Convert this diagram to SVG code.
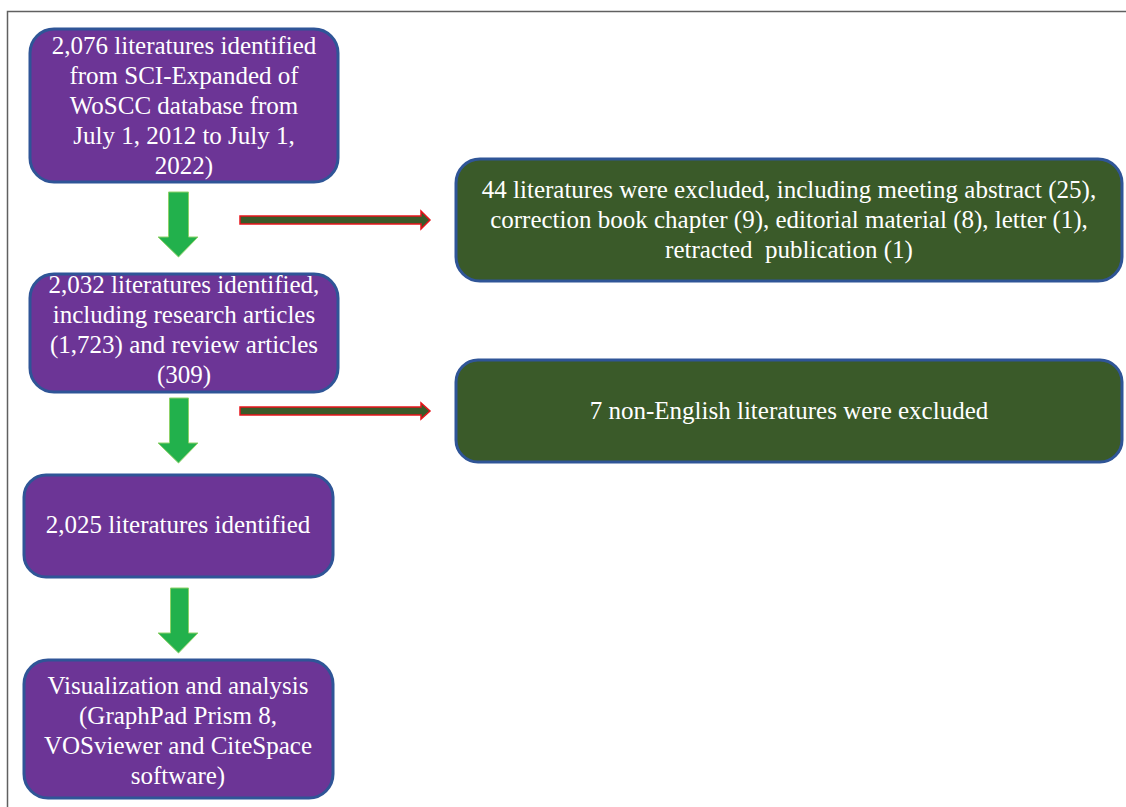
<svg xmlns="http://www.w3.org/2000/svg" width="1126" height="807" viewBox="0 0 1126 807">
<style>
.purple{fill:#6c3596;stroke:#2f5597;stroke-width:3}
.dgreen{fill:#3a5a29;stroke:#2f5597;stroke-width:3}
.t{font-family:"Liberation Serif","Times New Roman",serif;font-size:25px;fill:#ffffff;text-anchor:middle}
.garrow{fill:#22b14c;stroke:#8fd26a;stroke-width:1}
.rarrow{fill:#3a5a29;stroke:#e8141b;stroke-width:1.5}
</style>
<rect width="1126" height="807" fill="#ffffff"/>
<g id="frame">
<path d="M1126,11.5 H7.5 V807" fill="none" stroke="#606060" stroke-width="1.5"/>
</g>
<g id="node1">
<rect class="purple" x="30" y="29" width="308" height="153" rx="24"/>
<text class="t" x="184" y="54">2,076 literatures identified</text>
<text class="t" x="184" y="84">from SCI-Expanded of</text>
<text class="t" x="184" y="114">WoSCC database from</text>
<text class="t" x="184" y="144">July 1, 2012 to July 1,</text>
<text class="t" x="184" y="174">2022)</text>
</g>
<g id="node2">
<rect class="purple" x="30" y="274" width="308" height="118" rx="24"/>
<text class="t" x="184" y="293">2,032 literatures identified,</text>
<text class="t" x="184" y="323">including research articles</text>
<text class="t" x="184" y="353">(1,723) and review articles</text>
<text class="t" x="184" y="383">(309)</text>
</g>
<g id="node3">
<rect class="purple" x="24" y="475" width="309" height="102" rx="22"/>
<text class="t" x="178" y="533">2,025 literatures identified</text>
</g>
<g id="node4">
<rect class="purple" x="24" y="660" width="309" height="138" rx="24"/>
<text class="t" x="178" y="694">Visualization and analysis</text>
<text class="t" x="178" y="724">(GraphPad Prism 8,</text>
<text class="t" x="178" y="754">VOSviewer and CiteSpace</text>
<text class="t" x="178" y="784">software)</text>
</g>
<g id="node5">
<rect class="dgreen" x="456" y="159" width="666" height="122" rx="24"/>
<text class="t" x="789" y="198">44 literatures were excluded, including meeting abstract (25),</text>
<text class="t" x="789" y="228">correction book chapter (9), editorial material (8), letter (1),</text>
<text class="t" x="789" y="258" xml:space="preserve">retracted  publication (1)</text>
</g>
<g id="node6">
<rect class="dgreen" x="456" y="360" width="666" height="102" rx="22"/>
<text class="t" x="789" y="419">7 non-English literatures were excluded</text>
</g>
<g id="connectors">
<path class="garrow" d="M168.5,192 H188.5 V237 H198 L178.5,257 L158,237 H168.5 Z"/>
<path class="garrow" d="M169.5,398 H188.5 V443 H198 L178.5,463 L158,443 H169.5 Z"/>
<path class="garrow" d="M170.5,588 H188.5 V633 H198 L178.5,653 L158,633 H170.5 Z"/>
<path class="rarrow" d="M240,216 H421 V211 L430,220 L421,229 V224 H240 Z"/>
<path class="rarrow" d="M240,407 H421 V403 L430,411 L421,419 V415 H240 Z"/>
</g>
</svg>
